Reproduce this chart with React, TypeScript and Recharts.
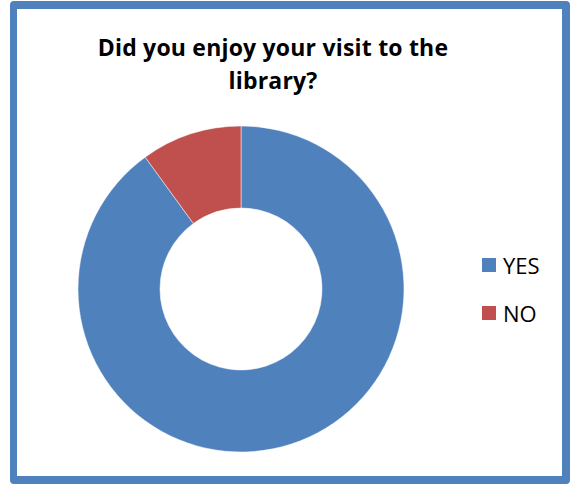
import { Legend, Pie, PieChart, Cell } from "recharts";

const answers = ["YES", "NO"];
const votes = [90, 10];
const sliceColors = ["#4f81bd", "#c0504d"];

const data = answers.map((name, i) => ({ name, value: votes[i] }));

const FONT = "'Open Sans', 'Liberation Sans', sans-serif";

// legend: square + label, stacked with wide gaps like the Excel original.
// Built from our own arrays so the order stays YES, NO (recharts sorts by name).
function renderLegend() {
  return (
    <div style={{ fontFamily: FONT }}>
      {answers.map((name, i) => (
        <div
          key={name}
          style={{ display: "flex", alignItems: "center", height: 48 }}
        >
          <span
            style={{
              width: 14,
              height: 14,
              background: sliceColors[i],
              display: "inline-block",
              marginRight: 7,
            }}
          />
          <span style={{ fontSize: 22, color: "#000" }}>{name}</span>
        </div>
      ))}
    </div>
  );
}

export default function App() {
  return (
    <div
      style={{
        position: "absolute",
        left: 0,
        top: 0,
        width: 572,
        height: 488,
        overflow: "hidden",
        background: "#fff",
      }}
    >
      <div
        style={{
          position: "absolute",
          left: 10,
          top: 1,
          width: 560,
          height: 483,
          boxSizing: "border-box",
          border: "8px solid #4f81bd",
          borderLeftWidth: 7,
          borderRadius: 4,
        }}
      />
      <div
        style={{
          position: "absolute",
          left: 48,
          top: 31,
          width: 450,
          textAlign: "center",
          fontFamily: FONT,
          fontWeight: 700,
          fontSize: 23,
          lineHeight: "33px",
          letterSpacing: 0.2,
          color: "#000",
        }}
      >
        Did you enjoy your visit to the
        <br />
        library?
      </div>
      <div style={{ position: "absolute", left: 0, top: 0 }}>
        <PieChart width={572} height={488}>
          <Pie
            data={data}
            dataKey="value"
            nameKey="name"
            cx={236}
            cy={284}
            innerRadius={81}
            outerRadius={163}
            startAngle={90}
            endAngle={-270}
            stroke="#ffffff"
            strokeWidth={0.5}
            isAnimationActive={false}
          >
            {data.map((d, i) => (
              <Cell key={d.name} fill={sliceColors[i]} />
            ))}
          </Pie>
          <Legend
            layout="vertical"
            content={renderLegend}
            wrapperStyle={{ left: 482, top: 241, width: 90 }}
          />
        </PieChart>
      </div>
    </div>
  );
}
